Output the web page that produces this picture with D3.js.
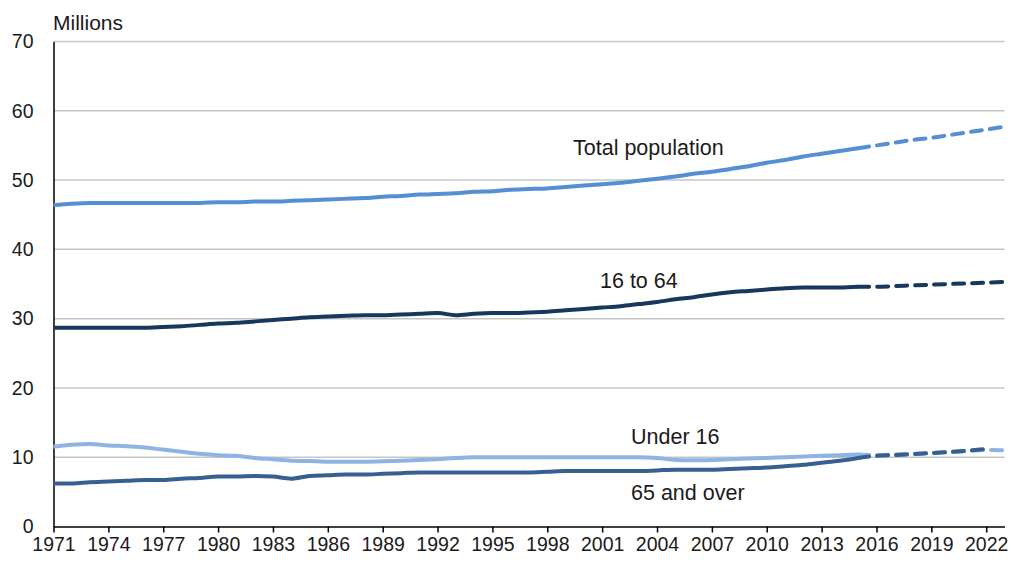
<!DOCTYPE html>
<html>
<head>
<meta charset="utf-8">
<script src="https://cdn.jsdelivr.net/npm/d3@7"></script>
<style>
  body { margin: 0; background: #fff; }
  svg { display: block; font-family: "Liberation Sans", Arial, sans-serif; }
</style>
</head>
<body>
<svg id="chart" width="1011" height="564"></svg>
<script>
// ---- Data (millions) ----
const yearsObserved = d3.range(1971, 2016); // 1971..2015
const totalObserved = [46.4,46.6,46.7,46.7,46.7,46.7,46.7,46.7,46.7,46.8,46.8,46.9,46.9,47.0,47.1,47.2,47.3,47.4,47.6,47.7,47.9,48.0,48.1,48.3,48.4,48.6,48.7,48.8,49.0,49.2,49.4,49.6,49.9,50.2,50.5,50.9,51.2,51.6,52.0,52.5,52.9,53.4,53.8,54.2,54.6];
const age16to64Observed = [28.7,28.7,28.7,28.7,28.7,28.7,28.8,28.9,29.1,29.3,29.4,29.6,29.8,30.0,30.2,30.3,30.4,30.5,30.5,30.6,30.7,30.8,30.5,30.7,30.8,30.8,30.9,31.0,31.2,31.4,31.6,31.8,32.1,32.4,32.8,33.1,33.5,33.8,34.0,34.2,34.4,34.5,34.5,34.5,34.6];
const under16Observed = [11.5,11.8,11.9,11.7,11.6,11.4,11.1,10.8,10.5,10.3,10.2,9.9,9.7,9.5,9.45,9.35,9.35,9.35,9.4,9.5,9.6,9.7,9.9,10.0,10.0,10.0,10.0,10.0,10.0,10.0,10.0,10.0,10.0,9.9,9.6,9.55,9.6,9.7,9.8,9.9,10.0,10.1,10.2,10.3,10.4];
const over65Observed = [6.2,6.2,6.4,6.5,6.6,6.7,6.7,6.9,7.0,7.2,7.2,7.3,7.2,6.9,7.3,7.4,7.5,7.5,7.6,7.7,7.8,7.8,7.8,7.8,7.8,7.8,7.8,7.9,8.0,8.0,8.0,8.0,8.0,8.1,8.2,8.2,8.2,8.3,8.4,8.5,8.7,8.9,9.2,9.5,9.9];

const yearsProjected = d3.range(2015, 2024); // 2015..2023
const totalProjected = [54.6,55.0,55.4,55.8,56.1,56.5,56.9,57.3,57.7];
const age16to64Projected = [34.6,34.6,34.7,34.8,34.9,35.0,35.1,35.2,35.3];
const under16Projected = [10.4,10.3,10.4,10.5,10.6,10.75,10.9,11.05,11.0];
const yearsProjected65 = d3.range(2015, 2023); // 2015..2022
const over65Projected = [9.9,10.2,10.3,10.45,10.6,10.75,10.95,11.2];

const xTickYears = d3.range(1971, 2023, 3);
const yTickValues = [0,10,20,30,40,50,60,70];

const seriesNames = ["Total population", "16 to 64", "Under 16", "65 and over"];
const seriesColors = ["#558ed5", "#17375e", "#8eb4e3", "#376092"];

// ---- Layout ----
const svg = d3.select("#chart");
const margin = {left: 53.5, right: 6.5, top: 41.5, bottom: 37.5};
const W = 1011, H = 564;

const x = d3.scaleLinear().domain([1971, 2023]).range([margin.left, W - margin.right]);
const y = d3.scaleLinear().domain([0, 70]).range([H - margin.bottom, margin.top]);

// gridlines
svg.append("g")
  .selectAll("line")
  .data(yTickValues.filter(d => d > 0))
  .join("line")
  .attr("x1", x(1971)).attr("x2", x(2023))
  .attr("y1", d => y(d)).attr("y2", d => y(d))
  .attr("stroke", "#c6c6c6").attr("stroke-width", 1.5);

// y axis
const yAxis = svg.append("g")
  .attr("transform", `translate(${x(1971)},0)`)
  .call(d3.axisLeft(y).tickValues(yTickValues).tickSize(0).tickPadding(20).tickFormat(d3.format("d")));
yAxis.select(".domain").attr("stroke", "#000").attr("stroke-width", 1.5);
yAxis.selectAll("text").attr("font-size", 19.5).attr("fill", "#1a1a1a").attr("font-family", "Liberation Sans, Arial, sans-serif");

// x axis
const xAxis = svg.append("g")
  .attr("transform", `translate(0,${y(0)})`)
  .call(d3.axisBottom(x).tickValues(xTickYears).tickSizeInner(6).tickSizeOuter(0).tickPadding(5).tickFormat(d3.format("d")));
xAxis.select(".domain").attr("stroke", "#000").attr("stroke-width", 1.5);
xAxis.selectAll(".tick line").attr("stroke", "#000").attr("stroke-width", 1.5);
xAxis.selectAll("text").attr("font-size", 19.5).attr("fill", "#1a1a1a").attr("font-family", "Liberation Sans, Arial, sans-serif");

// lines
const line = d3.line().x(d => x(d[0])).y(d => y(d[1])).curve(d3.curveMonotoneX);
const zip = (a, b) => a.map((v, i) => [v, b[i]]);

const observed = [
  zip(yearsObserved, totalObserved),
  zip(yearsObserved, age16to64Observed),
  zip(yearsObserved, under16Observed),
  zip(yearsObserved, over65Observed)
];
const projected = [
  zip(yearsProjected, totalProjected),
  zip(yearsProjected, age16to64Projected),
  zip(yearsProjected, under16Projected),
  zip(yearsProjected65, over65Projected)
];

// drawing order: under 16 below 65 and over
const order = [2, 3, 0, 1];
const lines = svg.append("g").attr("fill", "none").attr("stroke-width", 4);
order.forEach(i => {
  lines.append("path").attr("d", line(observed[i])).attr("stroke", seriesColors[i])
    .attr("stroke-linejoin", "round");
  lines.append("path").attr("d", line(projected[i])).attr("stroke", seriesColors[i])
    .attr("stroke-dasharray", "11,8").attr("stroke-linecap", "round");
});

// labels
const labelPos = [
  {x: 573, y: 147},
  {x: 600, y: 280},
  {x: 631, y: 436},
  {x: 631, y: 492}
];
svg.append("g").selectAll("text")
  .data(seriesNames)
  .join("text")
  .attr("x", (d, i) => labelPos[i].x)
  .attr("y", (d, i) => labelPos[i].y)
  .attr("dy", "0.35em")
  .attr("font-size", 21.5)
  .attr("fill", "#1a1a1a")
  .text(d => d);

svg.append("text")
  .attr("x", 53).attr("y", 23).attr("dy", "0.35em")
  .attr("font-size", 21).attr("fill", "#1a1a1a")
  .text("Millions");
</script>
</body>
</html>
